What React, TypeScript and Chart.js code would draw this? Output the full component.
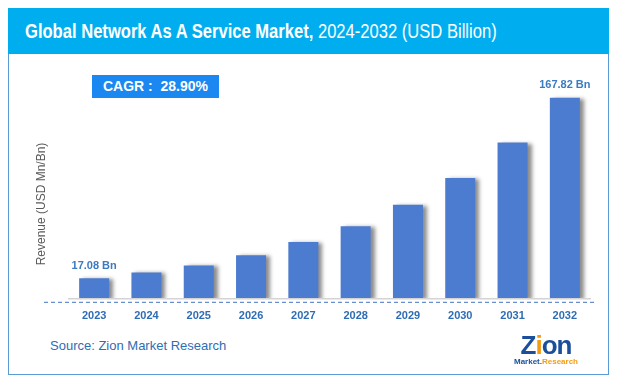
import React, { useEffect, useRef } from "react";
import { Chart, registerables } from "chart.js";

Chart.register(...registerables);

const years = ["2023", "2024", "2025", "2026", "2027", "2028", "2029", "2030", "2031", "2032"];
const revenue = [17.08, 22.0, 27.9, 36.3, 47.5, 60.6, 78.5, 100.8, 130.4, 167.82];
const valueLabels = ["17.08 Bn", "", "", "", "", "", "", "", "", "167.82 Bn"];
const titleBold = "Global Network As A Service Market,";
const titleRest = " 2024-2032 (USD Billion)";
const cagrText = "CAGR :  28.90%";
const yAxisTitle = "Revenue (USD Mn/Bn)";
const sourceText = "Source: Zion Market Research";

const FONT = "'Liberation Sans', Arial, sans-serif";

export default function App() {
  const canvasRef = useRef<HTMLCanvasElement | null>(null);

  useEffect(() => {
    const canvas = canvasRef.current;
    if (!canvas) return;

    const decor = {
      id: "decor",
      beforeDatasetsDraw(chart: any) {
        const ctx = chart.ctx;
        ctx.save();
        ctx.shadowColor = "rgba(0,0,0,0.45)";
        ctx.shadowOffsetX = 4;
        ctx.shadowOffsetY = 1;
        ctx.shadowBlur = 4;
      },
      afterDatasetsDraw(chart: any) {
        const ctx = chart.ctx;
        ctx.restore();
        const area = chart.chartArea;
        ctx.save();
        ctx.strokeStyle = "#D4D4D4";
        ctx.lineWidth = 1.5;
        ctx.beginPath();
        ctx.moveTo(area.left, area.bottom);
        ctx.lineTo(area.right, area.bottom);
        ctx.stroke();
        ctx.strokeStyle = "#4472C4";
        ctx.lineWidth = 1;
        ctx.setLineDash([4, 3]);
        ctx.beginPath();
        ctx.moveTo(36, area.bottom + 3.5);
        ctx.lineTo(588, area.bottom + 3.5);
        ctx.stroke();
        ctx.setLineDash([]);
        const meta = chart.getDatasetMeta(0);
        ctx.fillStyle = "#3B7BC0";
        ctx.font = "bold 11px " + FONT;
        ctx.textAlign = "center";
        ctx.textBaseline = "middle";
        meta.data.forEach((bar: any, i: number) => {
          const t = valueLabels[i];
          if (t) ctx.fillText(t, bar.x, bar.y - 12.5);
        });
        ctx.translate(34, 150);
        ctx.rotate(-Math.PI / 2);
        ctx.fillStyle = "#595959";
        ctx.font = "12px " + FONT;
        ctx.fillText(yAxisTitle, 0, 0);
        ctx.restore();
      },
    };

    const chart = new Chart(canvas, {
      type: "bar",
      data: {
        labels: years,
        datasets: [
          {
            data: revenue,
            backgroundColor: "#4C7CD0",
            borderWidth: 0,
            barPercentage: 0.574,
            categoryPercentage: 1,
          },
        ],
      },
      options: {
        responsive: false,
        animation: false,
        layout: { padding: { left: 60, right: 17, top: 14, bottom: 4 } },
        plugins: { legend: { display: false }, tooltip: { enabled: false } },
        scales: {
          y: { display: false, min: 0, max: 192.7 },
          x: {
            grid: { display: false, drawTicks: false },
            border: { display: false },
            ticks: {
              padding: 11,
              color: "#2E6DB4",
              font: { family: FONT, size: 11, weight: "bold" },
            },
          },
        },
      },
      plugins: [decor],
    });
    return () => chart.destroy();
  }, []);

  return (
    <div style={{ position: "relative", width: 601, height: 367, fontFamily: FONT }}>
      <div
        style={{
          position: "absolute",
          left: 0,
          top: 0,
          width: 599,
          height: 365,
          border: "1px solid #5B9BD5",
        }}
      />
      <div
        style={{
          position: "absolute",
          left: 0,
          top: 0,
          width: 601,
          height: 46,
          background: "#00AEEF",
        }}
      />
      <div
        style={{
          position: "absolute",
          left: 17,
          top: 0,
          height: 46,
          lineHeight: "46px",
          color: "#fff",
          fontSize: 19.5,
          whiteSpace: "nowrap",
          transform: "scaleX(0.85)",
          transformOrigin: "left center",
        }}
      >
        <span style={{ fontWeight: "bold" }}>{titleBold}</span>
        <span>{titleRest}</span>
      </div>
      <canvas
        ref={canvasRef}
        width={600}
        height={284}
        style={{ position: "absolute", left: 0, top: 46, width: 600, height: 284 }}
      />
      <div
        style={{
          position: "absolute",
          left: 84,
          top: 67,
          width: 127,
          height: 23,
          background: "#1A88F0",
          color: "#fff",
          fontWeight: "bold",
          fontSize: 14,
          lineHeight: "23px",
          textAlign: "center",
          whiteSpace: "pre",
        }}
      >
        {cagrText}
      </div>
      <div
        style={{
          position: "absolute",
          left: 42,
          top: 330,
          color: "#2E6DB4",
          fontSize: 13,
          lineHeight: "16px",
          whiteSpace: "nowrap",
        }}
      >
        {sourceText}
      </div>
      <div style={{ position: "absolute", left: 503, top: 325, width: 70, textAlign: "center" }}>
        <div
          style={{
            color: "#1B4F9C",
            fontWeight: "bold",
            fontSize: 26,
            lineHeight: "24px",
            letterSpacing: -1,
          }}
        >
          <span>Z</span>
          <span style={{ color: "#F39C12" }}>i</span>
          <span>on</span>
        </div>
        <div style={{ fontSize: 8, fontWeight: "bold", lineHeight: "9px", color: "#1B4F9C" }}>
          Market.<span style={{ color: "#F39C12" }}>Research</span>
        </div>
      </div>
    </div>
  );
}
